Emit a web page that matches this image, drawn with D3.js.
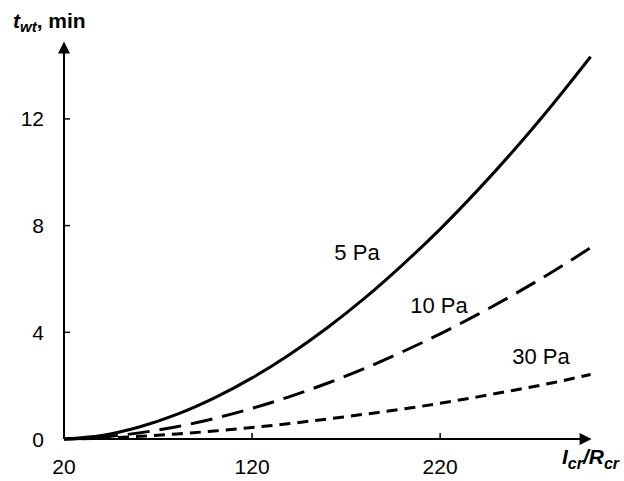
<!DOCTYPE html>
<html>
<head>
<meta charset="utf-8">
<script src="https://d3js.org/d3.v7.min.js"></script>
<style>
  body { margin: 0; background: #fff; }
  svg text { font-family: Arial, "Liberation Sans", sans-serif; fill: #000; }
</style>
</head>
<body>
<div id="chart"></div>
<script>
// ratio I_cr/R_cr
const ratio = [20, 40, 60, 80, 100, 120, 140, 160, 180, 200, 220, 240, 260, 280, 300];
// waiting time, min
const t5Pa  = [0, 0.13, 0.45, 0.92, 1.54, 2.29, 3.17, 4.17, 5.29, 6.53, 7.87, 9.33, 10.89, 12.56, 14.33];
const t10Pa = [0, 0.07, 0.23, 0.46, 0.77, 1.15, 1.59, 2.09, 2.65, 3.27, 3.94, 4.67, 5.45, 6.28, 7.17];
const t30Pa = [0, 0.03, 0.10, 0.19, 0.30, 0.43, 0.58, 0.75, 0.93, 1.12, 1.34, 1.58, 1.84, 2.11, 2.42];
const xTicks = [20, 120, 220];
const yTicks = [0, 4, 8, 12];
const seriesNames = ["5 Pa", "10 Pa", "30 Pa"];

const width = 624, height = 481;

const svg = d3.select("#chart").append("svg")
    .attr("width", width)
    .attr("height", height);

const x = d3.scaleLinear().domain([20, 300]).range([64, 590.6]);
const y = d3.scaleLinear().domain([0, 4]).range([439, 332.3]);

// axes lines with arrow heads
const axisG = svg.append("g");
axisG.append("line")
    .attr("x1", x(20)).attr("x2", x(300) - 8)
    .attr("y1", y(0)).attr("y2", y(0))
    .attr("stroke", "#000").attr("stroke-width", 2);
axisG.append("path")
    .attr("d", `M${x(300) + 1},${y(0)} L${x(300) - 11},${y(0) - 6} L${x(300) - 11},${y(0) + 6} Z`)
    .attr("fill", "#000");

axisG.append("line")
    .attr("x1", x(20)).attr("x2", x(20))
    .attr("y1", y(0)).attr("y2", y(14.9) + 8)
    .attr("stroke", "#000").attr("stroke-width", 2);
axisG.append("path")
    .attr("d", `M${x(20)},${y(14.9)} L${x(20) - 6},${y(14.9) + 12} L${x(20) + 6},${y(14.9) + 12} Z`)
    .attr("fill", "#000");

// ticks (pointing into the plot)
axisG.selectAll(".ytick")
    .data(yTicks.filter(d => d > 0))
    .enter().append("line")
    .attr("class", "ytick")
    .attr("x1", x(20)).attr("x2", x(20) + 6)
    .attr("y1", d => y(d)).attr("y2", d => y(d))
    .attr("stroke", "#000").attr("stroke-width", 1.5);

axisG.selectAll(".xtick")
    .data(xTicks.filter(d => d > 20))
    .enter().append("line")
    .attr("class", "xtick")
    .attr("x1", d => x(d)).attr("x2", d => x(d))
    .attr("y1", y(0)).attr("y2", y(0) - 6)
    .attr("stroke", "#000").attr("stroke-width", 1.5);

// tick labels
axisG.selectAll(".ylab")
    .data(yTicks)
    .enter().append("text")
    .attr("class", "ylab")
    .attr("x", 44)
    .attr("y", d => y(d) + 7.5)
    .attr("text-anchor", "end")
    .attr("font-size", 21)
    .text(d => d);

axisG.selectAll(".xlab")
    .data(xTicks)
    .enter().append("text")
    .attr("class", "xlab")
    .attr("x", d => x(d))
    .attr("y", 474)
    .attr("text-anchor", "middle")
    .attr("font-size", 21)
    .text(d => d);

// axis titles
const yTitle = svg.append("text")
    .attr("x", 13).attr("y", 28)
    .attr("font-size", 21)
    .attr("font-weight", "bold");
yTitle.append("tspan").attr("font-style", "italic").text("t");
yTitle.append("tspan").attr("font-style", "italic").attr("font-size", 15).attr("dy", 4).text("wt");
yTitle.append("tspan").attr("dy", -4).text(", min");

const xTitle = svg.append("text")
    .attr("x", 562).attr("y", 464)
    .attr("font-size", 21)
    .attr("font-weight", "bold")
    .attr("font-style", "italic");
xTitle.append("tspan").text("I");
xTitle.append("tspan").attr("font-size", 16).attr("dy", 5).text("cr");
xTitle.append("tspan").attr("dy", -5).text("/R");
xTitle.append("tspan").attr("font-size", 16).attr("dy", 5).text("cr");

// curves
const line = d3.line()
    .x(d => x(d[0]))
    .y(d => y(d[1]))
    .curve(d3.curveMonotoneX);

const series = [
    { vals: t5Pa,  dash: null },
    { vals: t10Pa, dash: "22,10" },
    { vals: t30Pa, dash: "11,7" }
];

series.forEach(s => {
    svg.append("path")
        .datum(ratio.map((r, i) => [r, s.vals[i]]))
        .attr("fill", "none")
        .attr("stroke", "#000")
        .attr("stroke-width", 3)
        .attr("stroke-dasharray", s.dash)
        .attr("d", line);
});

// curve labels
const labelPos = [[357, 260], [439, 313], [541, 364]];
svg.selectAll(".clab")
    .data(seriesNames)
    .enter().append("text")
    .attr("class", "clab")
    .attr("x", (d, i) => labelPos[i][0])
    .attr("y", (d, i) => labelPos[i][1])
    .attr("text-anchor", "middle")
    .attr("font-size", 22)
    .text(d => d);
</script>
</body>
</html>
